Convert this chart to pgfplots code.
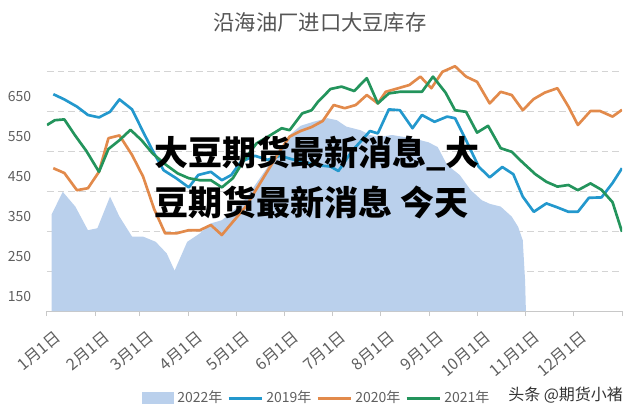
\documentclass[border=0pt]{standalone}
\usepackage{fontspec}
\setmainfont{Noto Sans CJK SC}
\usepackage{pgfplots}
\pgfplotsset{compat=1.18}
\definecolor{areablue}{RGB}{186,208,236}
\definecolor{c2019}{RGB}{35,152,205}
\definecolor{c2020}{RGB}{226,138,75}
\definecolor{c2021}{RGB}{35,148,92}
\definecolor{gridgray}{RGB}{212,212,212}
\definecolor{axisgray}{RGB}{200,200,200}
\definecolor{labelgray}{RGB}{95,95,95}
\definecolor{titlegray}{RGB}{85,85,85}

\pgfplotstableread{
day v
3 392
10 448
18 411
26 352
32 357
40 436
46 386
54 336
61 336
69 323
76 294
81 251
89 323
97 344
104 369
111 377
118 400
126 430
133 470
140 510
148 555
154 590
161 613
169 623
178 632
184 627
190 611
199 602
205 590
211 585
219 590
227 585
234 580
242 572
248 560
254 515
262 490
269 452
276 427
281 418
288 411
295 386
299 361
302 327
303.5 225
304 150
}\tabA

\pgfplotstableread{
day v
4 692
11 679
19 661
26 640
33 634
40 648
46 679
54 654
61 598
68 544
74 502
82 482
90 459
96 490
104 498
111 477
117 490
123 523
132 538
140 528
148 538
155 530
163 522
171 515
180 511
185 500
194 552
201 582
205 600
210 594
217 654
224 652
232 607
238 640
246 623
254 636
259 632
266 577
274 511
281 484
289 510
296 492
302 436
309 398
317 419
324 409
331 398
337 398
344 433
352 434
359 470
365 507
}\tabB

\pgfplotstableread{
day v
4 507
11 495
19 452
26 457
33 498
39 582
46 589
54 540
61 486
68 405
75 344
82 344
90 352
97 352
104 365
111 340
118 373
126 410
133 455
140 500
147 545
154 586
161 600
168 610
175 625
182 665
189 657
196 665
203 690
210 669
215 698
223 707
230 715
237 736
244 707
251 748
259 762
266 736
273 723
281 669
288 698
295 690
302 652
309 680
316 696
324 707
331 661
337 615
345 650
351 650
359 636
365 653
}\tabC

\pgfplotstableread{
day v
0 615
5 627
11 629
18 588
25 550
33 498
39 555
46 577
53 603
60 577
67 544
75 517
83 494
90 482
97 477
104 477
111 459
118 482
125 527
133 569
142 590
149 607
154 602
162 644
168 652
172 673
180 705
187 711
195 700
203 732
210 669
217 694
224 698
232 698
238 698
245 736
253 696
259 652
266 648
273 596
280 613
288 557
295 548
302 521
310 492
317 473
324 461
331 465
337 452
345 469
352 453
359 422
365 348
}\tabD

\begin{document}
\begin{tikzpicture}[x=1pt,y=1pt]
\useasboundingbox (0,0) rectangle (480,311.25);
\begin{axis}[
  at={(35.25pt,78pt)}, anchor=south west,
  scale only axis, width=431.25pt, height=186pt,
  xmin=0, xmax=365, ymin=150, ymax=770,
  axis x line*=bottom, axis y line*=left,
  y axis line style={draw=none},
  x axis line style={draw=axisgray, line width=0.75pt},
  ytick={150,250,350,450,550,650,750},
  yticklabels={150,250,350,450,550,650,},
  ytick style={draw=none},
  xtick={0,31,59,90,120,151,181,212,243,273,304,334,365},
  xticklabels={1月1日,2月1日,3月1日,4月1日,5月1日,6月1日,7月1日,8月1日,9月1日,10月1日,11月1日,12月1日,},
  xtick style={draw=axisgray, line width=0.75pt},
  tick align=outside, major tick length=3.75pt,
  ymajorgrids,
  major grid style={draw=gridgray, dash pattern=on 5pt off 3pt, line width=0.75pt},
  yticklabel style={anchor=base east, inner sep=0pt, xshift=-8pt, yshift=7pt,
    font=\fontsize{10.5}{12}\selectfont, text=labelgray},
  xticklabel style={rotate=40, anchor=east, inner sep=0pt, xshift=-2.5pt, yshift=-16.5pt,
    font=\fontsize{12}{14}\selectfont, text=labelgray},
  legend style={at={(0.468,-0.351)}, anchor=center, draw=none, fill=none,
    font=\fontsize{10.5}{12}\selectfont, text=labelgray, inner sep=0pt,
    /tikz/every odd column/.append style={column sep=2pt},
    /tikz/every even column/.append style={column sep=3pt},
    nodes={inner sep=0.5pt}},
  legend columns=4,
  legend image code/.code={\draw[#1, line width=2.2pt] (0pt,0pt) -- (24.75pt,0pt);},
]
\addplot[fill=areablue, draw=none,
  legend image code/.code={\fill[areablue] (0pt,-4.5pt) rectangle (24pt,4.5pt);}]
  table[x=day,y=v] {\tabA} \closedcycle;
\addlegendentry{2022年}
\addplot[c2019, line width=2pt, line join=round] table[x=day,y=v] {\tabB};
\addlegendentry{2019年}
\addplot[c2020, line width=2pt, line join=round] table[x=day,y=v] {\tabC};
\addlegendentry{2020年}
\addplot[c2021, line width=2pt, line join=round] table[x=day,y=v] {\tabD};
\addlegendentry{2021年}
\end{axis}
\node[font=\fontsize{16}{18}\selectfont, text=titlegray] at (240,294.75) {沿海油厂进口大豆库存};
\node[anchor=west, inner sep=0pt, font=\fontsize{25.5}{30}\selectfont\bfseries] at (115.5,195.75) {大豆期货最新消息\_大};
\node[anchor=west, inner sep=0pt, font=\fontsize{25.5}{30}\selectfont\bfseries] at (115.5,159.75) {豆期货最新消息 今天};
\node[anchor=west, inner sep=0pt, font=\fontsize{12}{14}\selectfont, text=black!80] at (381,15) {头条 @期货小褚};
\end{tikzpicture}
\end{document}
